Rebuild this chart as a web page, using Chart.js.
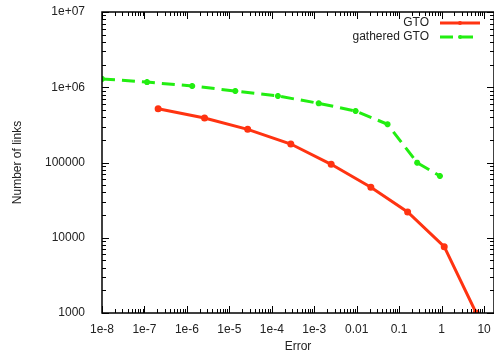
<!DOCTYPE html>
<html>
<head>
<meta charset="utf-8">
<script src="https://cdn.jsdelivr.net/npm/chart.js@4/dist/chart.umd.min.js"></script>
<style>
  html, body { margin: 0; padding: 0; background: #fff; }
  #wrap { width: 494px; height: 356px; }
</style>
</head>
<body>
<div id="wrap"><canvas id="chart"></canvas></div>
<script>
// data
const gtoError = [2.1e-7, 2.6e-6, 2.7e-5, 2.8e-4, 2.5e-3, 0.0215, 0.158, 1.15, 6.5];
const gtoLinks = [519000, 390000, 276000, 176000, 94600, 46800, 22000, 7600, 1000];

const gatheredError = [1e-8, 1.15e-7, 1.33e-6, 1.38e-5, 1.39e-4, 1.27e-3, 9.4e-3, 0.0532, 0.265, 0.91];
const gatheredLinks = [1290000, 1170000, 1040000, 891000, 765000, 612000, 483000, 322000, 99400, 66200];

const xTickValues = [1e-8, 1e-7, 1e-6, 1e-5, 1e-4, 1e-3, 0.01, 0.1, 1, 10];
const xTickLabels = ["1e-8", "1e-7", "1e-6", "1e-5", "1e-4", "1e-3", "0.01", "0.1", "1", "10"];
const yTickValues = [1000, 10000, 100000, 1e6, 1e7];
const yTickLabels = ["1000", "10000", "100000", "1e+06", "1e+07"];

const RED = "#ff3311";
const GREEN = "#22ee11";
const FONT = { family: "'Liberation Sans', Arial, sans-serif", size: 12 };

// gnuplot style frame with inward ticks on all four sides
const framePlugin = {
  id: "frame",
  afterDraw(chart) {
    const { ctx, chartArea: a, scales } = chart;
    ctx.save();
    ctx.strokeStyle = "#000";
    ctx.lineWidth = 1.5;
    ctx.strokeRect(a.left, a.top, a.right - a.left, a.bottom - a.top);
    ctx.lineWidth = 1;
    const tick = (scale, v, len) => {
      const p = Math.round(scale.getPixelForValue(v)) + 0.5;
      ctx.beginPath();
      if (scale.isHorizontal()) {
        ctx.moveTo(p, a.bottom); ctx.lineTo(p, a.bottom - len);
        ctx.moveTo(p, a.top); ctx.lineTo(p, a.top + len);
      } else {
        ctx.moveTo(a.left, p); ctx.lineTo(a.left + len, p);
        ctx.moveTo(a.right, p); ctx.lineTo(a.right - len, p);
      }
      ctx.stroke();
    };
    [[scales.x, xTickValues], [scales.y, yTickValues]].forEach(([s, decades]) => {
      decades.forEach(d => {
        tick(s, d, 7);
        for (let k = 2; k < 10; k++) {
          const v = k * d;
          if (v > s.min && v < s.max) tick(s, v, 4);
        }
      });
    });
    ctx.restore();
  }
};

// legend: text right aligned, sample line to its right
const keyPlugin = {
  id: "key",
  afterDraw(chart) {
    const { ctx } = chart;
    ctx.save();
    ctx.font = FONT.size + "px " + FONT.family;
    ctx.textAlign = "right";
    ctx.textBaseline = "middle";
    chart.data.datasets.forEach((ds, i) => {
      const y = 23 + i * 14;
      ctx.fillStyle = "#222";
      ctx.fillText(ds.label, 429, y);
      ctx.strokeStyle = ds.borderColor;
      ctx.lineWidth = 3;
      ctx.setLineDash(ds.borderDash || []);
      ctx.beginPath();
      ctx.moveTo(440, y); ctx.lineTo(480, y);
      ctx.stroke();
      ctx.setLineDash([]);
      ctx.fillStyle = ds.borderColor;
      ctx.beginPath();
      ctx.arc(460, y, 2, 0, Math.PI * 2);
      ctx.fill();
    });
    ctx.restore();
  }
};

const noPad = s => { s.paddingTop = 0; s.paddingBottom = 0; s.paddingLeft = 0; s.paddingRight = 0; };

new Chart(document.getElementById("chart"), {
  type: "line",
  data: {
    datasets: [
      {
        label: "GTO",
        data: gtoError.map((x, i) => ({ x, y: gtoLinks[i] })),
        borderColor: RED,
        backgroundColor: RED,
        borderWidth: 3,
        pointRadius: 2,
        pointStyle: "circle",
        fill: false,
      },
      {
        label: "gathered GTO",
        data: gatheredError.map((x, i) => ({ x, y: gatheredLinks[i] })),
        borderColor: GREEN,
        backgroundColor: GREEN,
        borderWidth: 3,
        borderDash: [13, 7],
        pointRadius: 3,
        pointBorderWidth: 2,
        pointStyle: "star",
        fill: false,
      },
    ],
  },
  options: {
    responsive: true,
    maintainAspectRatio: false,
    animation: false,
    layout: { autoPadding: false, padding: { top: 12, right: 0, left: 0, bottom: 0 } },
    plugins: { legend: { display: false }, tooltip: { enabled: false } },
    scales: {
      x: {
        type: "logarithmic",
        min: 1e-8,
        max: 17.1,
        afterBuildTicks: s => { s.ticks = xTickValues.map(value => ({ value })); },
        afterFit: s => { s.height = 43; noPad(s); },
        ticks: {
          autoSkip: false,
          maxRotation: 0,
          padding: 9,
          color: "#222",
          font: FONT,
          callback: (v, i) => xTickLabels[i],
        },
        grid: { display: false, drawTicks: false },
        border: { display: false },
        title: { display: true, text: "Error", color: "#222", font: FONT, padding: { top: 0, bottom: 2 } },
      },
      y: {
        type: "logarithmic",
        min: 1000,
        max: 1e7,
        afterBuildTicks: s => { s.ticks = yTickValues.map(value => ({ value })); },
        afterFit: s => { s.width = 102; noPad(s); },
        ticks: {
          autoSkip: false,
          padding: 17,
          color: "#222",
          font: FONT,
          callback: (v, i) => yTickLabels[i],
        },
        grid: { display: false, drawTicks: false },
        border: { display: false },
        title: { display: true, text: "Number of links", color: "#222", font: FONT, padding: { top: 10, bottom: 0 } },
      },
    },
  },
  plugins: [framePlugin, keyPlugin],
});
</script>
</body>
</html>
